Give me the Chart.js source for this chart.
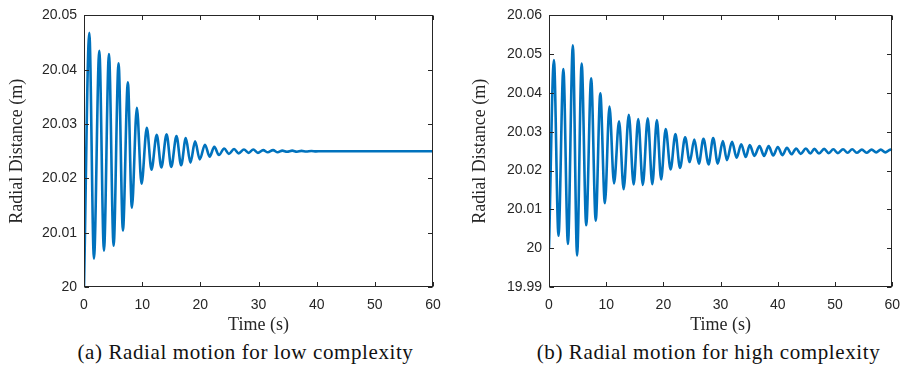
<!DOCTYPE html>
<html>
<head>
<meta charset="utf-8">
<script src="https://cdn.jsdelivr.net/npm/chart.js@4.4.1/dist/chart.umd.min.js"></script>
<style>
  html, body { margin: 0; padding: 0; background: #ffffff; }
  #wrap { position: relative; width: 910px; height: 365px; overflow: hidden; }
  .panel { position: absolute; top: 0; width: 455px; height: 340px; }
  .cap { position: absolute; top: 340px; width: 455px; height: 24px; line-height: 24px;
         text-align: center; font-family: "Liberation Serif", serif; font-size: 21px;
         letter-spacing: 0.6px; color: #111; }
</style>
</head>
<body>
<div id="wrap">
  <div class="panel" style="left:0"><canvas id="c1"></canvas></div>
  <div class="panel" style="left:455px"><canvas id="c2"></canvas></div>
  <div class="cap" style="left:18px">(a) Radial motion for low complexity</div>
  <div class="cap" style="left:481px">(b) Radial motion for high complexity</div>
</div>
<script>
// ---------- data (oscillation extrema) ----------
const lowTime = [0, 0.91, 1.71, 2.63, 3.43, 4.29, 5.09, 5.94, 6.69, 7.54, 8.23, 9.09, 9.89,
  10.8, 11.6, 12.5, 13.3, 14.2, 15.0, 15.9, 16.7, 17.5, 18.3, 19.1, 19.9, 20.8, 21.6,
  22.4, 23.2, 24.1, 24.9, 25.8, 26.6, 27.5, 28.3, 29.1, 29.9, 30.8, 31.6, 32.5, 33.3,
  34.1, 34.9, 35.8, 36.6, 37.4, 38.2, 39.1, 39.9, 40.7, 60];
const lowRadius = [20.0, 20.0468, 20.0052, 20.0435, 20.0067, 20.0429, 20.0076, 20.0412, 20.0104,
  20.0377, 20.0146, 20.0330, 20.0190, 20.0293, 20.0216, 20.0280, 20.0220, 20.0281, 20.0221,
  20.0278, 20.0224, 20.0274, 20.0229, 20.0268, 20.0235, 20.0262, 20.0240, 20.0258, 20.0243,
  20.0255, 20.0245, 20.0254, 20.0246, 20.0253, 20.0247, 20.0253, 20.0247, 20.0252, 20.0248,
  20.0252, 20.0248, 20.0251, 20.0249, 20.0251, 20.0249, 20.02506, 20.02494, 20.02504, 20.02497,
  20.0250, 20.0250];

const highTime = [0, 0.86, 1.66, 2.51, 3.31, 4.17, 4.91, 5.71, 6.51, 7.37, 8.17, 8.97, 9.77,
  10.57, 11.37, 12.25, 13.05, 13.95, 14.8, 15.6, 16.4, 17.26, 18.06, 18.86, 19.6, 20.4, 21.26,
  22.1, 22.9, 23.8, 24.6, 25.4, 26.2, 27.0, 27.9, 28.7, 29.5, 30.4, 31.1, 32.0, 32.8, 33.6,
  34.4, 35.1, 35.9, 36.8, 37.6, 38.4, 39.2, 40.0, 40.8, 41.6, 42.4, 43.2, 44.0, 44.9, 45.7,
  46.4, 47.2, 48.1, 48.9, 49.7, 50.5, 51.4, 52.2, 53.0, 53.8, 54.7, 55.5, 56.4, 57.2, 58.0,
  58.8, 59.7, 60];
const highRadius = [20.0, 20.0485, 20.0032, 20.0462, 20.0011, 20.0523, 19.9981, 20.0476, 20.0059,
  20.0438, 20.0071, 20.0399, 20.0116, 20.0365, 20.0167, 20.0327, 20.0152, 20.0344, 20.0164,
  20.0333, 20.0163, 20.0335, 20.0165, 20.0330, 20.0177, 20.0307, 20.0203, 20.0294, 20.0207,
  20.0286, 20.0222, 20.0280, 20.0218, 20.0282, 20.0216, 20.0284, 20.0218, 20.0276, 20.0227,
  20.0274, 20.0233, 20.0268, 20.0235, 20.0266, 20.0238, 20.0263, 20.0238, 20.0263, 20.0239,
  20.0261, 20.0240, 20.0259, 20.0242, 20.0257, 20.0243, 20.0257, 20.0244, 20.0256, 20.0244,
  20.0256, 20.0245, 20.0255, 20.0245, 20.0255, 20.0246, 20.0255, 20.0246, 20.0254, 20.0246,
  20.0254, 20.0247, 20.0254, 20.0247, 20.0254, 20.0252];

const timeTicks = [0, 10, 20, 30, 40, 50, 60];
const lowYTicks = [20.00, 20.01, 20.02, 20.03, 20.04, 20.05];
const lowYLabels = ['20', '20.01', '20.02', '20.03', '20.04', '20.05'];
const highYTicks = [19.99, 20.00, 20.01, 20.02, 20.03, 20.04, 20.05, 20.06];
const highYLabels = ['19.99', '20', '20.01', '20.02', '20.03', '20.04', '20.05', '20.06'];

const xTitle = 'Time (s)';
const yTitle = 'Radial Distance (m)';

// ---------- drawing ----------
const AXIS = '#262626';
const LINE = '#0072BD';
const tickFont = { family: '"Liberation Sans", Arial, sans-serif', size: 14 };
const titleFont = { family: '"Liberation Serif", serif', size: 18 };

const boxPlugin = {
  id: 'matlabBox',
  afterDraw(chart) {
    const { ctx, chartArea: a, scales } = chart;
    ctx.save();
    ctx.strokeStyle = AXIS;
    ctx.lineWidth = 1;
    const L = Math.round(a.left) + 0.5, R = Math.round(a.right) - 0.5;
    const T = Math.round(a.top) + 0.5, B = Math.round(a.bottom) - 0.5;
    ctx.strokeRect(L, T, R - L, B - T);
    const len = 4.5;
    ctx.beginPath();
    scales.x.ticks.forEach(t => {
      const px = Math.round(scales.x.getPixelForValue(t.value)) + 0.5;
      ctx.moveTo(px, B); ctx.lineTo(px, B - len);
      ctx.moveTo(px, T); ctx.lineTo(px, T + len);
    });
    scales.y.ticks.forEach(t => {
      const py = Math.round(scales.y.getPixelForValue(t.value)) + 0.5;
      ctx.moveTo(L, py); ctx.lineTo(L + len, py);
      ctx.moveTo(R, py); ctx.lineTo(R - len, py);
    });
    ctx.stroke();
    ctx.restore();
  }
};

function makeChart(id, times, values, yTicks, yLabels, yAxisWidth, padRight, yTitlePad) {
  const pts = times.map((t, i) => ({ x: t, y: values[i] }));
  return new Chart(document.getElementById(id), {
    type: 'line',
    data: { datasets: [{ data: pts, borderColor: LINE, borderWidth: 2.6, pointRadius: 0,
      fill: false, cubicInterpolationMode: 'monotone' }] },
    options: {
      responsive: true, maintainAspectRatio: false, animation: false,
      layout: { padding: { left: 0, right: padRight, top: 13, bottom: 0 } },
      plugins: { legend: { display: false }, tooltip: { enabled: false } },
      scales: {
        x: {
          type: 'linear', min: 0, max: 60,
          afterBuildTicks: s => { s.ticks = timeTicks.map(v => ({ value: v })); },
          afterFit: s => { s.height = 53; },
          grid: { display: false, drawTicks: false },
          border: { display: false },
          ticks: { font: tickFont, color: AXIS, padding: 10, maxRotation: 0,
                   callback: v => String(v) },
          title: { display: true, text: xTitle, font: titleFont, color: AXIS,
                   padding: { top: 0, bottom: 4 } }
        },
        y: {
          type: 'linear', min: yTicks[0], max: yTicks[yTicks.length - 1],
          afterBuildTicks: s => { s.ticks = yTicks.map(v => ({ value: v })); },
          afterFit: s => { s.width = yAxisWidth; },
          grid: { display: false, drawTicks: false },
          border: { display: false },
          ticks: { font: tickFont, color: AXIS, padding: 7,
                   callback: (v) => {
                     let best = 0;
                     yTicks.forEach((t, i) => { if (Math.abs(t - v) < Math.abs(yTicks[best] - v)) best = i; });
                     return yLabels[best];
                   } },
          title: { display: true, text: yTitle, font: titleFont, color: AXIS,
                   padding: { top: yTitlePad, bottom: 0 } }
        }
      }
    },
    plugins: [boxPlugin]
  });
}

makeChart('c1', lowTime, lowRadius, lowYTicks, lowYLabels, 84, 22, 6);
makeChart('c2', highTime, highRadius, highYTicks, highYLabels, 94, 12, 14);
</script>
</body>
</html>
